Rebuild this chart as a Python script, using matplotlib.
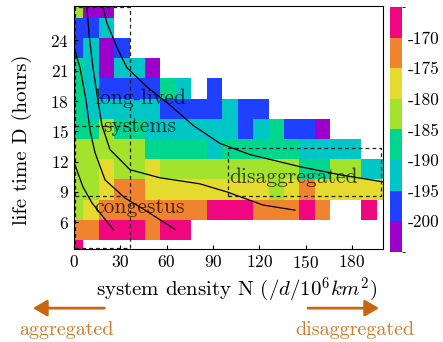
import numpy as np
import matplotlib
matplotlib.use("Agg")
import matplotlib.pyplot as plt
from matplotlib.colors import ListedColormap, BoundaryNorm
from matplotlib.patches import FancyArrowPatch

plt.rcParams["font.family"] = "serif"
plt.rcParams["font.serif"] = ["cmr10"]
plt.rcParams["mathtext.fontset"] = "cm"
plt.rcParams["axes.unicode_minus"] = False
plt.rcParams["axes.formatter.use_mathtext"] = True

# bin edges (density N, lifetime D)
x_edges = np.arange(-4, 207, 10)
y_edges = np.arange(2.25, 28.3, 2.0)

# mean value per cell, rows from bottom (D ~ 3) to top (D ~ 27)
nan = np.nan
P, O, Y, G, E, C, B, V = -168, -173, -178, -183, -188, -193, -198, -203
row00 = [P] + [nan] * 20
row01 = [O, O, P, P, P, O, P, P] + [nan] * 13
row02 = [G, Y, O, O, O, O, O, O, O, P, P, P, O, O, O, P, O, nan, nan, P, nan]
row03 = [G, G, Y, O, O, Y, Y, Y, Y, Y, Y, Y, Y, G, Y, O, Y, Y, Y, Y, Y]
row04 = [G, G, Y, G, G, Y, G, G, G, G, G, G, G, G, G, E, E, G, G, C, C]
row05 = [G, G, G, G, G, E, E, E, E, C, E, E, E, E, E, C, C, C, C, nan, nan]
row06 = [E, E, G, E, E, C, C, C, C, C, C, B, C, E, B, B, V] + [nan] * 4
row07 = [E, C, C, C, C, C, B, B, B, B, C, B, B] + [nan] * 8
row08 = [E, C, B, B, B, B, E, C, nan, B] + [nan] * 11
row09 = [E, C, V, C, C, V] + [nan] * 15
row10 = [B, C, V, B] + [nan] * 17
row11 = [B, B, C] + [nan] * 18
row12 = [G, V, V] + [nan] * 18

# contour lines (N, D)
line1_x = [0.6, 5.8, 11.7, 25.3]
line1_y = [11.7, 9.5, 7.9, 5.3]
line2_x = [0.6, 3.9, 7.8, 10.4, 13.6, 20.1, 33.0, 46.0, 65.4]
line2_y = [23.0, 21.3, 18.1, 15.1, 12.9, 10.2, 8.4, 7.2, 5.3]
line3_x = [8.4, 9.7, 12.3, 15.5, 18.1, 23.3, 36.3, 55.7, 81.6, 99.1, 122.4, 143.1]
line3_y = [27.3, 24.7, 21.3, 18.1, 15.6, 13.2, 11.2, 10.4, 9.8, 9.0, 7.7, 7.2]
line4_x = [18.8, 21.4, 27.9, 34.3, 47.3, 62.2, 77.1, 94.6, 114.0, 146.4, 172.3, 200.0]
line4_y = [27.3, 25.7, 23.3, 21.3, 19.4, 17.6, 15.6, 13.8, 12.7, 11.5, 10.7, 10.0]

# regime limits
box_aggregated = [0.4, 36, 3.4, 27.3]      # x0, x1, y0, y1
longlived_min_D = 15.5
congestus_max_D = 8.6
box_disaggregated = [100, 199, 8.6, 13.4]

cb_bounds = [-205, -200, -195, -190, -185, -180, -175, -170, -165]
cb_ticks = [-200, -195, -190, -185, -180, -175, -170]
colors = ["#9b00cc", "#1f40ff", "#00c6c6", "#00d68e",
          "#a3e32e", "#e5da2e", "#f0832f", "#f0067f"]

grid = np.ma.masked_invalid(np.array([row00, row01, row02, row03, row04, row05, row06,
                                      row07, row08, row09, row10, row11, row12], dtype=float))
cmap = ListedColormap(colors)
norm = BoundaryNorm(cb_bounds, cmap.N)

fig = plt.figure(figsize=(4.43, 3.42), dpi=100)
ax = fig.add_axes([0.167, 0.272, 0.697, 0.710])
cax = fig.add_axes([0.880, 0.264, 0.027, 0.715])

mesh = ax.pcolormesh(x_edges, y_edges, grid, cmap=cmap, norm=norm)

for lx, ly in [(line1_x, line1_y), (line2_x, line2_y), (line3_x, line3_y), (line4_x, line4_y)]:
    ax.plot(lx, ly, color="k", lw=0.9)

dash = dict(color="#222222", lw=0.9, linestyle=(0, (3, 2.5)))
for x0, x1, y0, y1 in [box_aggregated, box_disaggregated]:
    ax.plot([x0, x1, x1, x0, x0], [y0, y0, y1, y1, y0], **dash)
ax.plot([box_aggregated[0], box_aggregated[1]], [longlived_min_D] * 2, **dash)
ax.plot([box_aggregated[0], box_aggregated[1]], [congestus_max_D] * 2, **dash)

txt = dict(color="k", alpha=0.7, fontsize=15.5, ha="center", va="center")
ax.text(42.7, 16.85, "long-lived\nsystems", linespacing=1.55, **txt)
ax.text(42.7, 7.5, "congestus", **txt)
ax.text(142, 10.5, "disaggregated", **txt)

ax.set_xlim(0, 200)
ax.set_ylim(3.35, 27.4)
ax.set_xticks([0, 30, 60, 90, 120, 150, 180])
ax.set_yticks([6, 9, 12, 15, 18, 21, 24])
ax.tick_params(direction="in", length=3, labelsize=12.5)
ax.set_xlabel(r"system density N $(/d/10^6km^2)$", fontsize=15)
ax.set_ylabel("life time D (hours)", fontsize=15)
ax.xaxis.set_label_coords(0.527, -0.112)
ax.yaxis.set_label_coords(-0.135, 0.45)

cb = fig.colorbar(mesh, cax=cax, ticks=cb_ticks)
cb.outline.set_visible(False)
cb.ax.tick_params(length=0, labelsize=12.5, pad=4)
cb.ax.set_yticklabels([str(t) for t in cb_ticks])

arrow_color = "#c8660f"
arrow_style = dict(transform=fig.transFigure, arrowstyle="-|>,head_length=0.6,head_width=0.35",
                   mutation_scale=14, color=arrow_color, lw=2)
fig.patches.append(FancyArrowPatch((0.242, 0.099), (0.068, 0.099), **arrow_style))
fig.patches.append(FancyArrowPatch((0.689, 0.099), (0.862, 0.099), **arrow_style))
fig.text(0.149, 0.035, "aggregated", color="#d07a2c", fontsize=14.5, ha="center", va="center")
fig.text(0.801, 0.035, "disaggregated", color="#d07a2c", fontsize=14.5, ha="center", va="center")

fig.savefig("out.png", dpi=100)
